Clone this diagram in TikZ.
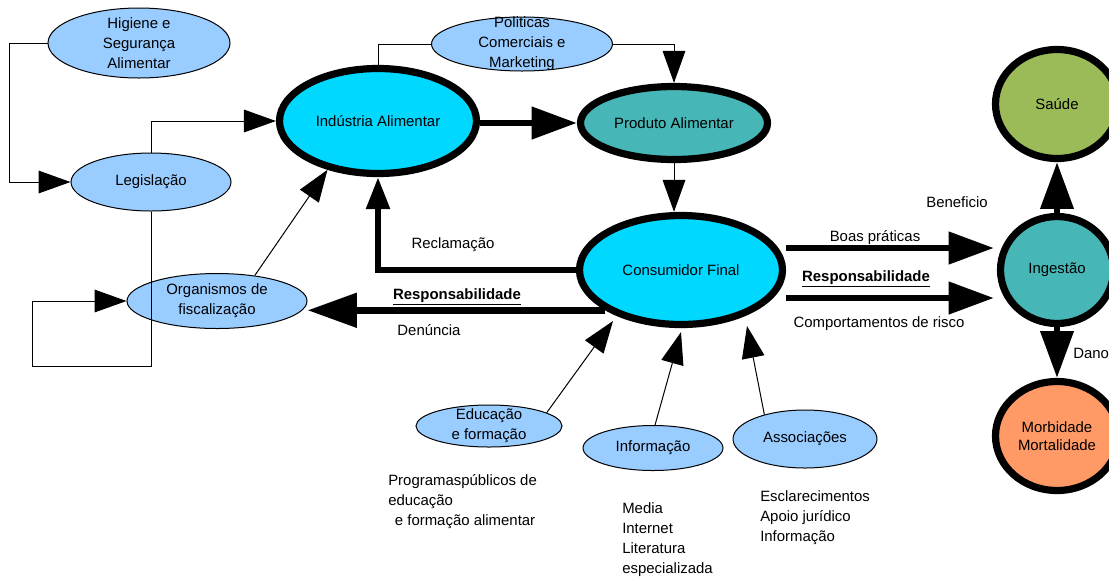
\documentclass[tikz,border=0pt]{standalone}
\usepackage{fontspec}
\setmainfont{Liberation Sans}
\usetikzlibrary{arrows.meta,shapes.geometric,calc}
\definecolor{lblue}{HTML}{99CCFF}
\definecolor{cyanf}{HTML}{00D8FF}
\definecolor{tealf}{HTML}{46B6B6}
\definecolor{greenf}{HTML}{9BBB59}
\definecolor{orangef}{HTML}{FF9966}
\tikzset{
  every node/.style={font=\fontsize{11.2}{15}\selectfont},
  txt/.style={align=center, inner sep=0pt},
  ltxt/.style={align=left, inner sep=0pt},
  lb/.style={ellipse, draw, line width=0.75pt, fill=lblue, inner sep=0pt},
  big/.style={ellipse, draw, line width=5.4pt, inner sep=0pt},
  plainln/.style={line width=0.75pt},
  thinarr/.style={line width=0.75pt, -{Triangle[length=24pt,width=17pt]}},
  fatsmall/.style={line width=4.9pt, -{Triangle[length=24pt,width=17pt]}},
  fatmid/.style={line width=5pt, -{Triangle[length=34pt,width=23.5pt]}},
  fatbig/.style={line width=5.25pt, -{Triangle[length=37pt,width=25pt]}},
  fatv/.style={line width=5pt, -{Triangle[length=35pt,width=24pt]}},
}
\begin{document}
\begin{tikzpicture}[x=0.75pt,y=-0.75pt]
\useasboundingbox (0,0) rectangle (1109,576);

% light blue ellipses
\node[lb, minimum width=136.5pt, minimum height=52.5pt,
  label={[txt]center:{Higiene e\\Segurança\\Alimentar}}] (hig) at (139,43) {};
\node[lb, minimum width=120pt, minimum height=43.5pt,
  label={[txt]center:{Legislação}}] (leg) at (151,182) {};
\node[lb, minimum width=135.75pt, minimum height=40.5pt,
  label={[txt]center:{Politicas\\Comerciais e\\Marketing}}] (pol) at (522,44) {};
\node[lb, minimum width=135pt, minimum height=41.25pt,
  label={[txt]center:{Organismos de\\fiscalização}}] (org) at (217,301) {};
\node[lb, minimum width=109.5pt, minimum height=31.5pt,
  label={[txt]center:{Educação\\e formação}}] (edu) at (489,426) {};
\node[lb, minimum width=105pt, minimum height=33.75pt,
  label={[txt]center:{Informação}}] (inf) at (653,448) {};
\node[lb, minimum width=108pt, minimum height=43.5pt,
  label={[txt]center:{Associações}}] (ass) at (805,439) {};

% thick-bordered ellipses
\node[big, fill=cyanf, minimum width=147.75pt, minimum height=78.75pt,
  label={[txt]center:{Indústria Alimentar}}] (ind) at (378,121) {};
\node[big, fill=tealf, minimum width=140.25pt, minimum height=54.75pt,
  label={[txt]center:{Produto Alimentar}}] (prod) at (674,123) {};
\node[big, fill=cyanf, minimum width=152.25pt, minimum height=81.75pt,
  label={[txt]center:{Consumidor Final}}] (cons) at (681,270) {};
\node[big, fill=greenf, minimum width=92.25pt, minimum height=81.75pt,
  label={[txt]center:{Saúde}}] (sau) at (1057,104) {};
\node[big, fill=tealf, minimum width=84.75pt, minimum height=80.25pt,
  label={[txt]center:{Ingestão}}] (ing) at (1057,270) {};
\node[big, fill=orangef, minimum width=92.25pt, minimum height=81.75pt,
  label={[txt,font=\fontsize{11.2}{13.5}\selectfont]center:{Morbidade\\Mortalidade}}] (mor) at (1057,436) {};

% free texts
\node[txt] (treclam) at (453,245) {Reclamação};
\node[txt] (tresp1) at (457,297) {\underline{\textbf{Responsabilidade}}};
\node[txt] (tdenun) at (429,330) {Denúncia};
\node[txt] (tboas) at (875,238) {Boas práticas};
\node[txt] (tresp2) at (866,279) {\underline{\textbf{Responsabilidade}}};
\node[txt] (tcomp) at (879,324) {Comportamentos de risco};
\node[txt] (tbenef) at (957,202) {Beneficio};
\node[txt, anchor=west] (tdano) at (1073,353) {Dano};
\node[ltxt, anchor=north west] (tprog) at (388,474) {Programaspúblicos de\\educação\\\hspace*{5pt}e formação alimentar};
\node[ltxt, anchor=north west] (tmedia) at (622,502) {Media\\Internet\\Literatura\\especializada};
\node[ltxt, anchor=north west] (tescl) at (760,490) {Esclarecimentos\\Apoio jurídico\\Informação};

\coordinate (loop) at (32,366);

% thin connectors
\draw[thinarr] (hig.west) -- ++(-38,0) |- (leg.west);
\draw[thinarr] (leg.north) |- (ind.west);
\draw[thinarr] (leg.south) |- (loop) |- (org.west);
\draw[thinarr] (org.34) -- (ind.224);
\draw[plainln] (ind.north) |- (pol.west);
\draw[thinarr] (pol.east) -| (prod.north);
\draw[thinarr] (prod.south) -- (prod.south |- cons.north);
\draw[thinarr] (edu.13) -- ($(cons.center)+(-68,51)$);
\draw[thinarr] (inf.85) -- ($(cons.south)+(0,4)$);
\draw[thinarr] (ass.149) -- ($(cons.center)+(66,56)$);

% thick connectors
\draw[fatmid] (ind.east |- prod.west) -- (prod.west);
\draw[fatsmall] (cons.west) -| (ind.south);
\draw[fatbig] (cons.208) -- (org.east |- cons.208);
\draw[fatmid] ($(cons.east)+(0,-22)$) -- ($(ing.west)+(-3,-22)$);
\draw[fatmid] ($(cons.east)+(0,28)$) -- ($(ing.west)+(-3,28)$);
\draw[fatv] (ing.north) -- (sau.south);
\draw[fatv] (ing.south) -- (mor.north);
\end{tikzpicture}
\end{document}
